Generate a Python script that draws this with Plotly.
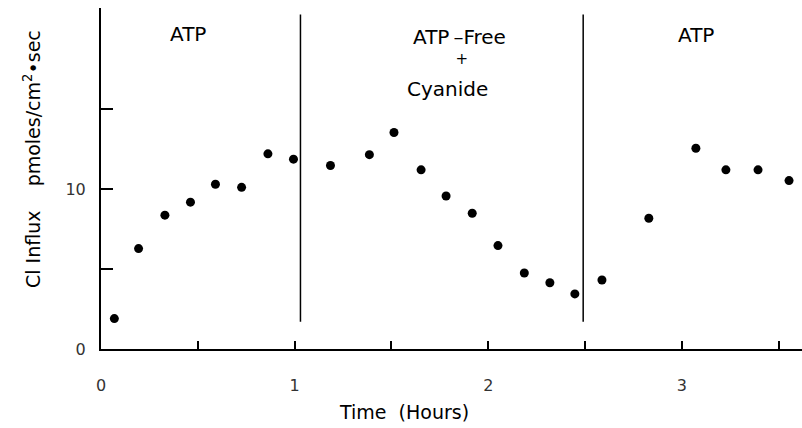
import plotly.graph_objects as go

# Data
time_hours = [0.069, 0.194, 0.330, 0.462, 0.591, 0.726, 0.862, 0.994,
              1.185, 1.386, 1.513, 1.653, 1.782, 1.917, 2.050, 2.186,
              2.318, 2.447, 2.587, 2.829, 3.072, 3.227, 3.393, 3.553]
cl_influx = [1.9, 6.27, 8.36, 9.17, 10.29, 10.1, 12.19, 11.86,
             11.46, 12.14, 13.52, 11.19, 9.56, 8.48, 6.46, 4.75,
             4.14, 3.44, 4.31, 8.17, 12.54, 11.19, 11.19, 10.52]
phase_boundaries = [1.03, 2.49]
boundary_y = [1.7, 20.9]

x_tickvals = [0, 1, 2, 3]
x_ticktext = ["0", "1", "2", "3"]
x_minor = [0.5, 1.5, 2.5, 3.5]
y_tickvals = [0, 10]
y_ticktext = ["0", "10"]
y_minor = [5, 15]

FONT = "DejaVu Sans"
W, H = 802, 428
ML, MR, MT, MB = 101, 0, 8, 79
plot_w = W - ML - MR
plot_h = H - MT - MB

fig = go.Figure()

fig.add_trace(go.Scatter(
    x=time_hours, y=cl_influx, mode="markers",
    marker=dict(color="black", size=9, line=dict(width=0)),
    showlegend=False, cliponaxis=False,
))

for xb in phase_boundaries:
    fig.add_trace(go.Scatter(
        x=[xb, xb], y=boundary_y, mode="lines",
        line=dict(color="black", width=1.5), showlegend=False,
        hoverinfo="skip",
    ))

# condition labels (data coordinates)
labels = [
    dict(text="ATP", x=0.450, y=19.66, size=20, ya="middle"),
    dict(text="<span style='font-size:20px'>ATP\u2009\u2013Free</span><br>"
              "<span style='font-size:15px'>&nbsp;+</span>",
         x=1.849, y=20.34, size=15, ya="top"),
    dict(text="Cyanide", x=1.789, y=16.25, size=20, ya="middle"),
    dict(text="ATP", x=3.072, y=19.6, size=20, ya="middle"),
]
for a in labels:
    fig.add_annotation(x=a["x"], y=a["y"], xref="x", yref="y", text=a["text"],
                       showarrow=False, xanchor="center", yanchor=a["ya"],
                       font=dict(family=FONT, size=a["size"], color="black"))

# axis titles placed as annotations (positions matched to reference)
fig.add_annotation(x=(404 - ML) / plot_w, y=(H - MB - 411.7) / plot_h,
                   xref="paper", yref="paper", text="Time&nbsp;&nbsp;(Hours)",
                   showarrow=False, xanchor="center", yanchor="middle",
                   font=dict(family=FONT, size=19, color="black"))
fig.add_annotation(x=(32 - ML) / plot_w, y=(H - MB - 159) / plot_h,
                   xref="paper", yref="paper",
                   text="Cl Influx&nbsp;&nbsp;&nbsp;&nbsp;pmoles/cm<sup>2</sup>\u2022sec",
                   textangle=-90, showarrow=False, xanchor="center", yanchor="middle",
                   font=dict(family=FONT, size=19, color="black"))

tick_style = dict(ticks="inside", tickwidth=1.5, tickcolor="black")
fig.update_layout(
    width=W, height=H,
    margin=dict(l=ML, r=MR, t=MT, b=MB, autoexpand=False),
    paper_bgcolor="white", plot_bgcolor="white",
    font=dict(family=FONT, color="black"),
    xaxis=dict(range=[0, 3.62], showgrid=False, zeroline=False,
               showline=True, linecolor="black", linewidth=2,
               ticklen=8, tickvals=x_tickvals, ticktext=x_ticktext,
               minor=dict(tickvals=x_minor, ticklen=8, **tick_style),
               tickfont=dict(family=FONT, size=16, color="#333"),
               ticklabelstandoff=21, **tick_style),
    yaxis=dict(range=[0, 21.3], showgrid=False, zeroline=False,
               showline=True, linecolor="black", linewidth=2,
               ticklen=12, tickvals=y_tickvals, ticktext=y_ticktext,
               minor=dict(tickvals=y_minor, ticklen=12, **tick_style),
               tickfont=dict(family=FONT, size=16, color="#333"),
               ticklabelstandoff=10, **tick_style),
)

fig.write_html("out.html", config={"displayModeBar": False},
               post_script="document.body.style.margin='0px';")
